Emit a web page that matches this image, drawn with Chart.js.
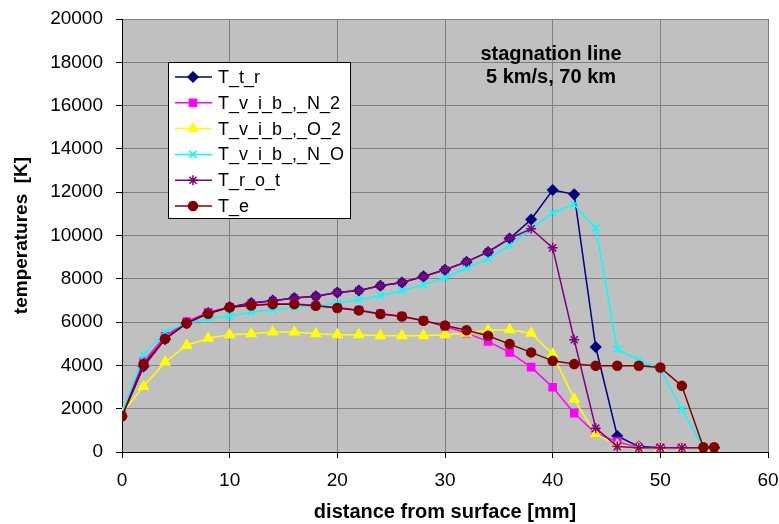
<!DOCTYPE html>
<html>
<head>
<meta charset="utf-8">
<script src="https://cdn.jsdelivr.net/npm/chart.js@4.4.1/dist/chart.umd.min.js"></script>
<style>
  html, body { margin: 0; padding: 0; background: #fff; }
  #wrap { width: 779px; height: 524px; position: relative; }
</style>
</head>
<body>
<div id="wrap"><canvas id="chart"></canvas></div>
<script>
// distance from surface [mm]
const distance = [0, 2, 4, 6, 8, 10, 12, 14, 16, 18, 20, 22, 24, 26, 28, 30, 32, 34, 36, 38, 40, 42, 44, 46, 48, 50, 52, 54, 55];

// temperatures [K]
const T_t_r = [1650, 3950, 5215, 5950, 6420, 6690, 6880, 6990, 7110, 7190, 7370, 7460, 7680, 7830, 8110, 8420, 8780, 9240, 9860, 10740, 12100, 11900, 4850, 740, 250, 200, 200, 200, 200];
const T_vib_N2 = [1700, 4185, 5340, 6030, 6450, 6700, 6790, 6850, 6850, 6770, 6670, 6560, 6390, 6280, 6080, 5800, 5490, 5110, 4600, 3920, 2990, 1790, 865, 480, 200, 200, 200, 200, 200];
const T_vib_O2 = [1800, 3030, 4150, 4920, 5250, 5415, 5460, 5540, 5540, 5460, 5415, 5415, 5370, 5370, 5370, 5415, 5490, 5620, 5650, 5490, 4520, 2440, 830, 320, 200, 200, 200, 200, 200];
const T_vib_NO = [1800, 4490, 5540, 5950, 6150, 6290, 6460, 6570, 6680, 6770, 6880, 7030, 7215, 7460, 7720, 8060, 8500, 8920, 9550, 10310, 11050, 11430, 10350, 4750, 4250, 3830, 1975, 215, null];
const T_rot = [1650, 3950, 5215, 5950, 6420, 6690, 6880, 6990, 7110, 7190, 7370, 7460, 7680, 7830, 8110, 8420, 8780, 9240, 9860, 10310, 9430, 5185, 1100, 250, 200, 200, 200, 200, 200];
const T_e = [1650, 4060, 5230, 5950, 6385, 6680, 6770, 6830, 6830, 6750, 6650, 6540, 6370, 6260, 6060, 5840, 5620, 5370, 4985, 4600, 4210, 4060, 3980, 3980, 3980, 3905, 3055, 215, 215];

const seriesNames = ['T_t_r', 'T_v_i_b_,_N_2', 'T_v_i_b_,_O_2', 'T_v_i_b_,_N_O', 'T_r_o_t', 'T_e'];
const seriesValues = [T_t_r, T_vib_N2, T_vib_O2, T_vib_NO, T_rot, T_e];

const xTicks = [0, 10, 20, 30, 40, 50, 60];
const yTicks = [0, 2000, 4000, 6000, 8000, 10000, 12000, 14000, 16000, 18000, 20000];

const noteLines = ['stagnation line', '5 km/s, 70 km'];

// look of each series, in the same order as seriesNames
const styles = [
  { color: '#000080', point: 'rectRot', radius: 5 },
  { color: '#FF00FF', point: 'rect', radius: 5 },
  { color: '#FFFF00', point: 'triangle', radius: 5.5 },
  { color: '#00FFFF', point: 'crossRot', radius: 5 },
  { color: '#800080', point: 'star', radius: 5 },
  { color: '#800000', point: 'circle', radius: 4.5 }
];

const FONT = "'Liberation Sans', Arial, sans-serif";

const datasets = seriesNames.map((name, i) => ({
  label: name,
  data: distance.map((d, k) => ({ x: d, y: seriesValues[i][k] })),
  borderColor: styles[i].color,
  backgroundColor: styles[i].color,
  pointBackgroundColor: styles[i].color,
  pointBorderColor: styles[i].color,
  pointStyle: styles[i].point,
  pointRadius: styles[i].radius,
  pointBorderWidth: 1.5,
  borderWidth: 1.5,
  tension: 0,
  fill: false,
  order: -i
}));

// grey plot background
const plotBackground = {
  id: 'plotBackground',
  beforeDraw(chart) {
    const { ctx, chartArea: a } = chart;
    ctx.save();
    ctx.fillStyle = '#C0C0C0';
    ctx.fillRect(a.left, a.top, a.right - a.left, a.bottom - a.top);
    ctx.restore();
  }
};

// legend box inside the plot + the note text
const boxLegend = {
  id: 'boxLegend',
  afterDraw(chart) {
    const ctx = chart.ctx;
    ctx.save();

    // note
    ctx.fillStyle = '#000';
    ctx.font = 'bold 20px ' + FONT;
    ctx.textAlign = 'center';
    ctx.textBaseline = 'middle';
    ctx.fillText(noteLines[0], 551, 54);
    ctx.fillText(noteLines[1], 551, 77);

    // legend box
    const bx = 168.5, by = 62.5, bw = 182, bh = 156;
    ctx.fillStyle = '#fff';
    ctx.fillRect(bx, by, bw, bh);
    ctx.strokeStyle = '#000';
    ctx.lineWidth = 1;
    ctx.strokeRect(bx, by, bw, bh);

    ctx.font = '18px ' + FONT;
    ctx.textAlign = 'left';
    seriesNames.forEach((name, i) => {
      const y = 77 + i * 25.8;
      ctx.strokeStyle = styles[i].color;
      ctx.fillStyle = styles[i].color;
      ctx.lineWidth = 1.5;
      ctx.beginPath();
      ctx.moveTo(175, y);
      ctx.lineTo(212, y);
      ctx.stroke();
      Chart.helpers.drawPoint(ctx, {
        pointStyle: styles[i].point,
        radius: styles[i].radius,
        rotation: 0,
        borderWidth: 1.5
      }, 193, y);
      ctx.fillStyle = '#000';
      ctx.fillText(name, 218, y + 1);
    });
    ctx.restore();
  }
};

new Chart(document.getElementById('chart'), {
  type: 'line',
  data: { datasets },
  options: {
    responsive: true,
    maintainAspectRatio: false,
    animation: false,
    layout: { padding: { left: 0, top: 19, right: 11, bottom: 0 } },
    plugins: {
      legend: { display: false },
      tooltip: { enabled: false }
    },
    scales: {
      x: {
        type: 'linear',
        min: 0,
        max: 60,
        afterBuildTicks(scale) { scale.ticks = xTicks.map(v => ({ value: v })); },
        afterFit(scale) {
          scale.height = 72;
          scale.paddingRight = 0;
          scale.paddingLeft = 0;
        },
        grid: { color: '#808080', tickColor: '#000', tickLength: 6, lineWidth: 1 },
        border: { color: '#000', width: 1 },
        ticks: { color: '#000', font: { family: FONT, size: 19 }, padding: 11, maxRotation: 0, callback: v => String(v) },
        title: {
          display: true,
          text: 'distance from surface [mm]',
          color: '#000',
          font: { family: FONT, size: 20, weight: 'bold' },
          padding: { top: 0, bottom: 0 }
        }
      },
      y: {
        min: 0,
        max: 20000,
        afterBuildTicks(scale) { scale.ticks = yTicks.map(v => ({ value: v })); },
        afterFit(scale) {
          scale.width = 122;
          scale.paddingTop = 0;
          scale.paddingBottom = 0;
        },
        grid: { color: '#808080', tickColor: '#000', tickLength: 6, lineWidth: 1 },
        border: { color: '#000', width: 1 },
        ticks: { color: '#000', font: { family: FONT, size: 19 }, padding: 13, callback: v => String(v) },
        title: {
          display: true,
          text: 'temperatures  [K]',
          color: '#000',
          font: { family: FONT, size: 19, weight: 'bold' },
          padding: { top: 10, bottom: 0 }
        }
      }
    }
  },
  plugins: [plotBackground, boxLegend]
});
</script>
</body>
</html>
